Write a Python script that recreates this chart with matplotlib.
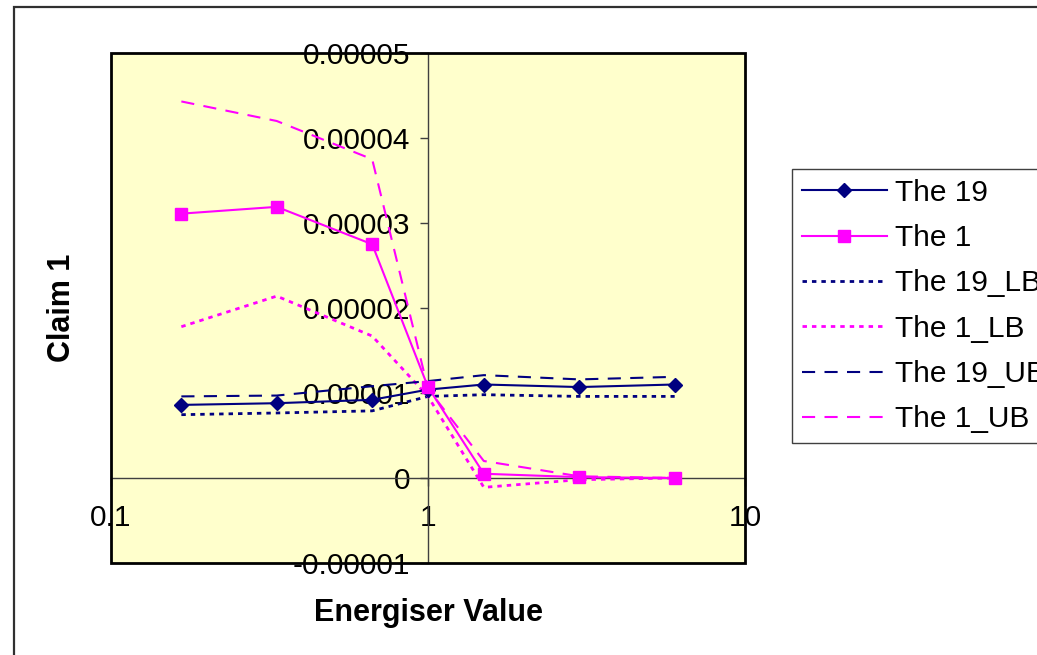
import matplotlib
matplotlib.use("Agg")
import matplotlib.pyplot as plt
from matplotlib.patches import Rectangle
from matplotlib.ticker import FixedLocator, FixedFormatter, NullLocator

plt.rcParams['font.family'] = ['Liberation Sans', 'DejaVu Sans']

# ---- data ----
energiser = [0.1667, 0.3333, 0.6667, 1.0, 1.5, 3.0, 6.0]
the_19 = [0.86e-5, 0.88e-5, 0.92e-5, 1.04e-5, 1.10e-5, 1.07e-5, 1.10e-5]
the_1 = [3.11e-5, 3.19e-5, 2.75e-5, 1.07e-5, 0.05e-5, 0.01e-5, 0.0]
the_19_lb = [0.745e-5, 0.765e-5, 0.79e-5, 0.96e-5, 0.98e-5, 0.96e-5, 0.96e-5]
the_1_lb = [1.78e-5, 2.14e-5, 1.67e-5, 0.96e-5, -0.11e-5, -0.02e-5, 0.0]
the_19_ub = [0.96e-5, 0.97e-5, 1.08e-5, 1.14e-5, 1.21e-5, 1.16e-5, 1.19e-5]
the_1_ub = [4.43e-5, 4.20e-5, 3.75e-5, 1.05e-5, 0.20e-5, 0.02e-5, 0.0]

y_ticks = [-0.00001, 0, 0.00001, 0.00002, 0.00003, 0.00004, 0.00005]
y_tick_labels = ["-0.00001", "0", "0.00001", "0.00002", "0.00003", "0.00004", "0.00005"]
x_ticks = [0.1, 1, 10]
x_tick_labels = ["0.1", "1", "10"]

NAVY = "#000080"
MAG = "#FF00FF"
FS = 21.5

W, H = 1037, 655
fig = plt.figure(figsize=(W / 100, H / 100), dpi=100)
fig.patch.set_facecolor("white")

# outer chart border
fig.patches.append(Rectangle((14 / W, -0.1), 1.2, (H - 7) / H + 0.1,
                             transform=fig.transFigure, fill=False,
                             edgecolor="#303030", linewidth=1.6, zorder=0))

left, right, top, bottom = 111, 745, 53, 563
ax = fig.add_axes([left / W, (H - bottom) / H, (right - left) / W, (bottom - top) / H])
ax.set_facecolor("#FFFFCC")
ax.set_xscale("log")
ax.set_xlim(0.1, 10)
ax.set_ylim(-0.00001, 0.00005)

lw = 1.5
ax.plot(energiser, the_19, color=NAVY, lw=lw, marker="D", ms=7, label="The 19", zorder=5)
ax.plot(energiser, the_1, color=MAG, lw=lw, marker="s", ms=8.5, label="The 1", zorder=5)
ax.plot(energiser, the_19_lb, color=NAVY, lw=2, dashes=(1.6, 1.8), label="The 19_LB", zorder=4)
ax.plot(energiser, the_1_lb, color=MAG, lw=2, dashes=(1.6, 1.8), label="The 1_LB", zorder=4)
ax.plot(energiser, the_19_ub, color=NAVY, lw=lw, dashes=(6.3, 4.5), label="The 19_UB", zorder=4)
ax.plot(energiser, the_1_ub, color=MAG, lw=lw, dashes=(6.3, 4.5), label="The 1_UB", zorder=4)

# axes crossing at x=1, y=0
for s in ["top", "right"]:
    ax.spines[s].set_visible(False)
ax.spines["left"].set_position(("data", 1))
ax.spines["bottom"].set_position(("data", 0))
for s in ["left", "bottom"]:
    ax.spines[s].set_color("#404040")
    ax.spines[s].set_linewidth(1)
    ax.spines[s].set_zorder(2)

ax.yaxis.set_major_locator(FixedLocator(y_ticks))
ax.yaxis.set_major_formatter(FixedFormatter(y_tick_labels))
ax.xaxis.set_major_locator(FixedLocator(x_ticks))
ax.xaxis.set_major_formatter(FixedFormatter(x_tick_labels))
ax.xaxis.set_minor_locator(NullLocator())
ax.tick_params(axis="y", direction="out", length=6, width=1, color="#404040",
               labelsize=FS, pad=7)
ax.tick_params(axis="x", direction="out", length=6, width=1, color="#404040",
               labelsize=FS, pad=13)
for t in ax.get_yticklabels() + ax.get_xticklabels():
    t.set_zorder(6)

# plot area border
ax.add_patch(Rectangle((0, 0), 1, 1, transform=ax.transAxes, fill=False,
                       edgecolor="black", linewidth=2, zorder=7, clip_on=False))

ax.text(-0.077, 0.5, "Claim 1", transform=ax.transAxes, rotation=90,
        ha="center", va="center", fontsize=22, fontweight="bold")
ax.text(0.5, -0.098, "Energiser Value", transform=ax.transAxes,
        ha="center", va="center", fontsize=22, fontweight="bold")

leg = ax.legend(loc="upper left", bbox_to_anchor=(792 / W, (H - 169) / H),
                bbox_transform=fig.transFigure, fontsize=FS, frameon=True,
                fancybox=False, edgecolor="#404040", framealpha=1,
                handlelength=2.85, handletextpad=0.28, labelspacing=0.58,
                borderpad=0.33, borderaxespad=0)
leg.get_frame().set_linewidth(1)

fig.savefig("out.png", dpi=100)
